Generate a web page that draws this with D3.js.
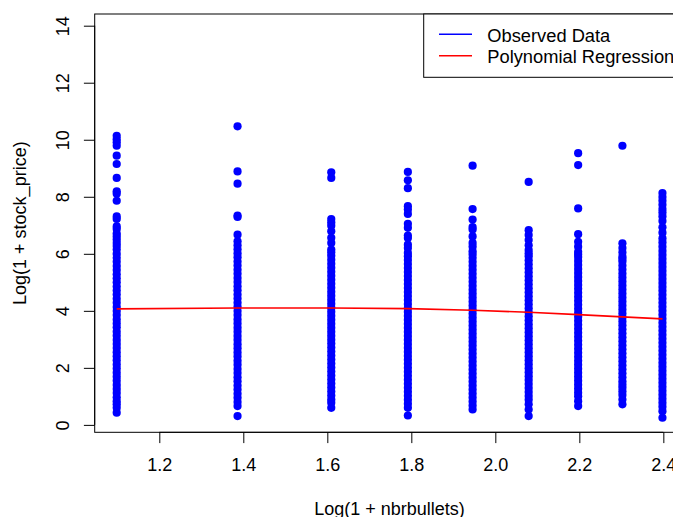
<!DOCTYPE html>
<html>
<head>
<meta charset="utf-8">
<script src="https://cdn.jsdelivr.net/npm/d3@7"></script>
<style>
  html, body { margin: 0; padding: 0; background: #fff; }
  svg { display: block; font-family: "Liberation Sans", Arial, sans-serif; }
</style>
</head>
<body>
<svg id="chart" width="673" height="517"></svg>
<script>
// x groups: log(1 + nbrbullets) for nbrbullets = 2..10
const logBullets = [1.0986, 1.3863, 1.6094, 1.7918, 1.9459, 2.0794, 2.1972, 2.3026, 2.3979];

// observed log(1 + stock_price) values per group
const obsGroup1 = [0.43,0.60,0.72,0.83,0.97,1.12,1.26,1.40,1.55,1.69,1.83,1.98,2.12,2.27,2.41,2.55,2.70,2.84,2.98,3.13,3.27,3.42,3.56,3.70,3.85,3.99,4.13,4.28,4.42,4.57,4.71,4.85,5.00,5.14,5.28,5.43,5.57,5.72,5.86,6.00,6.15,6.27,6.38,6.50,6.61,6.71,6.87,6.96,7.22,7.31,7.86,8.11,8.19,8.66,9.15,9.44,9.79,9.91,10.02,10.14];
const obsGroup2 = [0.31,0.66,0.80,0.95,1.09,1.24,1.38,1.53,1.67,1.82,1.96,2.11,2.25,2.40,2.54,2.69,2.83,2.98,3.12,3.27,3.41,3.56,3.70,3.85,3.99,4.14,4.28,4.43,4.57,4.72,4.86,5.01,5.15,5.30,5.44,5.59,5.73,5.88,6.02,6.16,6.30,6.44,6.67,7.29,7.34,8.46,8.89,10.47];
const obsGroup3 = [0.60,0.78,0.89,1.03,1.17,1.31,1.45,1.59,1.73,1.87,2.01,2.15,2.29,2.43,2.57,2.71,2.85,2.99,3.13,3.27,3.41,3.55,3.69,3.83,3.97,4.11,4.25,4.39,4.53,4.67,4.81,4.95,5.09,5.23,5.37,5.51,5.65,5.79,5.93,6.05,6.15,6.38,6.56,6.79,6.98,7.10,7.22,8.66,8.86];
const obsGroup4 = [0.33,0.60,0.74,0.88,1.02,1.16,1.30,1.44,1.58,1.72,1.86,2.00,2.14,2.28,2.42,2.56,2.70,2.84,2.98,3.12,3.26,3.40,3.54,3.68,3.82,3.96,4.10,4.24,4.38,4.52,4.66,4.80,4.94,5.08,5.22,5.36,5.50,5.64,5.78,5.91,6.03,6.20,6.32,6.55,6.64,6.91,7.05,7.40,7.55,7.67,8.30,8.58,8.87];
const obsGroup5 = [0.54,0.68,0.82,0.96,1.10,1.24,1.38,1.52,1.66,1.80,1.94,2.08,2.22,2.36,2.50,2.64,2.78,2.92,3.06,3.20,3.34,3.48,3.62,3.76,3.90,4.04,4.18,4.32,4.46,4.60,4.74,4.88,5.02,5.16,5.30,5.44,5.58,5.72,5.86,5.98,6.09,6.25,6.38,6.61,6.85,6.94,7.20,7.57,9.09];
const obsGroup6 = [0.31,0.54,0.72,0.88,1.01,1.15,1.29,1.43,1.57,1.71,1.85,1.99,2.13,2.27,2.41,2.55,2.69,2.83,2.97,3.11,3.25,3.39,3.53,3.67,3.81,3.95,4.09,4.23,4.37,4.51,4.65,4.79,4.93,5.07,5.21,5.35,5.49,5.63,5.77,5.91,6.02,6.13,6.30,6.48,6.66,6.83,8.52];
const obsGroup7 = [0.66,0.83,1.00,1.13,1.27,1.41,1.55,1.69,1.83,1.97,2.11,2.25,2.39,2.53,2.67,2.81,2.95,3.09,3.23,3.37,3.51,3.65,3.79,3.93,4.07,4.21,4.35,4.49,4.63,4.77,4.91,5.05,5.19,5.33,5.47,5.61,5.75,5.89,5.98,6.07,6.25,6.42,6.69,7.59,9.11,9.53];
const obsGroup8 = [0.72,0.89,1.05,1.18,1.30,1.41,1.53,1.67,1.81,1.95,2.09,2.23,2.37,2.51,2.65,2.79,2.93,3.07,3.21,3.35,3.49,3.63,3.77,3.91,4.05,4.19,4.33,4.47,4.61,4.75,4.89,5.03,5.17,5.31,5.45,5.59,5.73,5.82,5.90,6.05,6.20,6.37,9.79];
const obsGroup9 = [0.25,0.48,0.64,0.78,0.92,1.06,1.20,1.34,1.48,1.62,1.76,1.90,2.04,2.18,2.32,2.46,2.60,2.74,2.88,3.02,3.16,3.30,3.44,3.58,3.72,3.86,4.00,4.14,4.28,4.42,4.56,4.70,4.84,4.98,5.12,5.26,5.40,5.54,5.68,5.82,5.96,6.10,6.25,6.40,6.54,6.74,6.93,7.15,7.31,7.45,7.57,7.72,7.86,7.99,8.13];

// fitted polynomial regression values at each group
const fittedValues = [4.07, 4.10, 4.10, 4.08, 4.02, 3.95, 3.87, 3.79, 3.72];

const xTicks = [1.2, 1.4, 1.6, 1.8, 2.0, 2.2, 2.4];
const yTicks = [0, 2, 4, 6, 8, 10, 12, 14];
const legendLabels = ["Observed Data", "Polynomial Regression"];
const legendColors = ["#0000FF", "#FF0000"];

(function () {
const groups = [obsGroup1, obsGroup2, obsGroup3, obsGroup4, obsGroup5, obsGroup6, obsGroup7, obsGroup8, obsGroup9];
const points = [];
groups.forEach((vals, i) => vals.forEach(v => points.push({x: logBullets[i], y: v})));

const svg = d3.select("#chart");
const pLeft = 94.7, pRight = 684.3, pTop = 14, pBottom = 432.3;
const x = d3.scaleLinear().domain([1.0462, 2.4499]).range([pLeft, pRight]);
const y = d3.scaleLinear().domain([-0.26, 14.41]).range([pBottom, pTop]);

// points
svg.append("g").selectAll("circle").data(points).join("circle")
  .attr("cx", d => x(d.x)).attr("cy", d => y(d.y)).attr("r", 4.1)
  .attr("fill", "#0000FF");

// regression line
const line = d3.line().x((d, i) => x(logBullets[i])).y(d => y(d));
svg.append("path").datum(fittedValues).attr("d", line)
  .attr("fill", "none").attr("stroke", "#FF0000").attr("stroke-width", 1.7);

// box
svg.append("rect").attr("x", pLeft).attr("y", pTop)
  .attr("width", pRight - pLeft).attr("height", pBottom - pTop)
  .attr("fill", "none").attr("stroke", "#000").attr("stroke-width", 1);

const fs = 18;
const ff = "Liberation Sans, Arial, sans-serif";
// x axis
const xAxis = svg.append("g").attr("transform", `translate(0,${pBottom})`)
  .call(d3.axisBottom(x).tickValues(xTicks).tickSize(10.8).tickSizeOuter(0).tickFormat(d3.format(".1f")));
xAxis.select(".domain").attr("d", `M${x(1.2)},0H${x(2.4)}`).attr("stroke", "#000");
xAxis.selectAll(".tick line").attr("stroke", "#000");
xAxis.selectAll(".tick text").attr("y", 39.2).attr("dy", 0)
  .attr("font-size", fs).attr("font-family", ff).attr("fill", "#000");

// y axis
const yAxis = svg.append("g").attr("transform", `translate(${pLeft},0)`)
  .call(d3.axisLeft(y).tickValues(yTicks).tickSize(10.8).tickSizeOuter(0).tickFormat(d3.format("d")));
yAxis.select(".domain").attr("d", `M0,${y(0)}V${y(14)}`).attr("stroke", "#000");
yAxis.selectAll(".tick line").attr("stroke", "#000");
yAxis.selectAll(".tick text")
  .attr("x", null).attr("dy", 0)
  .attr("transform", "translate(-25.3,0) rotate(-90)")
  .attr("text-anchor", "middle")
  .attr("font-size", fs).attr("font-family", ff).attr("fill", "#000");

// axis titles
svg.append("text").attr("x", (pLeft + pRight) / 2).attr("y", 515)
  .attr("text-anchor", "middle").attr("font-size", fs).attr("fill", "#000")
  .text("Log(1 + nbrbullets)");
svg.append("text").attr("transform", `translate(26.3,${(pTop + pBottom) / 2}) rotate(-90)`)
  .attr("text-anchor", "middle").attr("font-size", fs).attr("fill", "#000")
  .text("Log(1 + stock_price)");

// legend
const lg = svg.append("g");
lg.append("rect").attr("x", 423.7).attr("y", pTop).attr("width", pRight - 423.7).attr("height", 77.3 - pTop)
  .attr("fill", "#fff").attr("stroke", "#000").attr("stroke-width", 1);
legendLabels.forEach((lab, i) => {
  const ly = 34.3 + i * 21.4;
  lg.append("line").attr("x1", 439).attr("x2", 472).attr("y1", ly).attr("y2", ly)
    .attr("stroke", legendColors[i]).attr("stroke-width", 1.5);
  lg.append("text").attr("x", 487.3).attr("y", 42 + i * 21.4)
    .attr("font-size", 18.3).attr("fill", "#000").text(lab);
});
})();
</script>
</body>
</html>
